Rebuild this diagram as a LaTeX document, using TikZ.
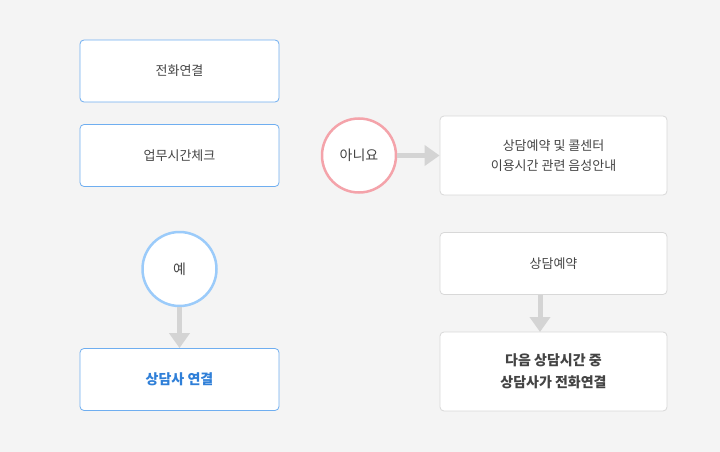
\documentclass[tikz,border=0pt]{standalone}
\usepackage{fontspec}
\setmainfont{Noto Sans CJK KR}
\usetikzlibrary{arrows.meta,positioning,backgrounds}
\definecolor{bgcol}{HTML}{F4F4F4}
\definecolor{bluebd}{HTML}{6FAEF0}
\definecolor{graybd}{HTML}{D8D8D8}
\definecolor{linecol}{HTML}{D4D4D4}
\definecolor{txtcol}{HTML}{444444}
\definecolor{bluetxt}{HTML}{2F7FD8}
\definecolor{pinkbd}{HTML}{F4A3AA}
\definecolor{ltblue}{HTML}{9BCBFA}
\begin{document}
\begin{tikzpicture}[x=1pt,y=-1pt,
    lbox/.style={draw=bluebd,line width=0.8pt,fill=white,rounded corners=4pt,minimum width=199pt,
      minimum height=62pt,text=txtcol,font=\fontsize{13}{20}\selectfont},
    rbox/.style={lbox,draw=graybd,minimum width=227pt,align=center},
    ans/.style={circle,fill=white,line width=2.5pt,minimum size=74pt,inner sep=0pt,
      text=txtcol,font=\fontsize{14}{16}\selectfont},
    conn/.style={draw=linecol,line width=5pt},
    tip/.style={conn,-{Triangle[width=20pt,length=15pt]}}
  ]
  % 背景
  \fill[bgcol] (0,0) rectangle (720,452);
  \useasboundingbox (0,0) rectangle (720,452);

  % 左の列
  \node[lbox] (call) at (179.5,71) {전화연결};
  \node[lbox] (check) at (179.5,155.5) {업무시간체크};
  \node[ans,draw=ltblue] (yes) at (179.5,269) {예};
  \node[lbox,text=bluetxt,font=\fontsize{14}{20}\selectfont\bfseries] (agent) at (179.5,379.5) {상담사 연결};

  % 右の列
  \node[ans,draw=pinkbd] (no) at (359,155.5) {아니요};
  \node[rbox,minimum height=79pt] (info) at (553.5,155.5) {상담예약 및 콜센터\\이용시간 관련 음성안내};
  \node[rbox] (book) at (553.5,263.5) {상담예약};
  \node[rbox,minimum height=79pt,font=\fontsize{14}{22}\selectfont\bfseries] (later) at (553.5,371.5) {다음 상담시간 중\\상담사가 전화연결};
  \coordinate (infoS) at (540,195);
  \coordinate (bookN) at (540,232);
  \coordinate (bookS) at (540,295);
  \coordinate (laterN) at (540,332);

  % 接続線
  \begin{scope}[on background layer]
    \draw[conn] (call) -- (check);
    \draw[conn] (check) -- (yes);
    \draw[conn] (check) -- (no);
    \draw[conn] (infoS) -- (bookN);
  \end{scope}
  \draw[tip] (yes.south) -- (agent.north);
  \draw[tip] (no.east) -- (info.west);
  \draw[tip] (bookS) -- (laterN);
\end{tikzpicture}
\end{document}
